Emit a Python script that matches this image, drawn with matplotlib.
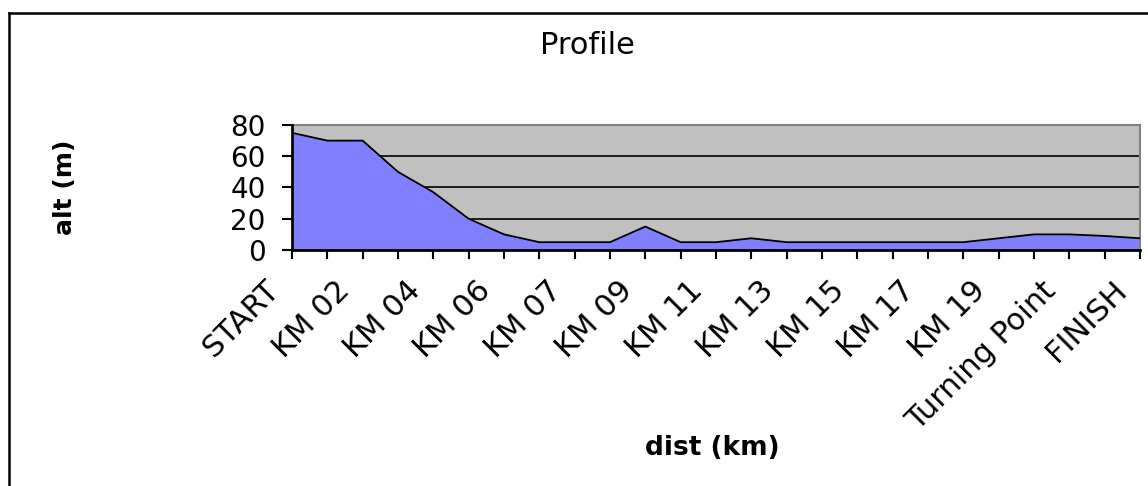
import matplotlib
matplotlib.use("Agg")
import matplotlib.pyplot as plt
from matplotlib.lines import Line2D
import matplotlib.transforms as mtransforms

plt.rcParams['font.family'] = ['DejaVu Sans']

categories = ["START", "KM 01", "KM 02", "KM 03", "KM 04", "KM 05", "KM 06",
              "KM 06.5", "KM 07", "KM 08", "KM 09", "KM 10", "KM 11", "KM 12",
              "KM 13", "KM 14", "KM 15", "KM 16", "KM 17", "KM 18", "KM 19",
              "KM 20", "Turning Point", "KM 21", "FINISH"]
altitude = [75, 70, 70, 50, 37, 20, 10, 5, 5, 5, 15, 5, 5, 7.5, 5, 5, 5, 5,
            5, 5, 7.5, 10, 10, 9, 7.5]
y_ticks = [0, 20, 40, 60, 80]

W, H = 1148, 486
fig = plt.figure(figsize=(W / 100, H / 100), dpi=100)
fig.patch.set_facecolor('white')

ax = fig.add_axes([292 / W, 1 - 250 / H, (1140 - 292) / W, (250 - 125) / H])
ax.set_facecolor('#C0C0C0')

x = list(range(len(categories)))
ax.fill_between(x, altitude, 0, facecolor='#8080FF', edgecolor='none', zorder=2)
ax.plot(x, altitude, color='black', lw=1.3, zorder=3)

ax.set_xlim(0, len(categories) - 1)
ax.set_ylim(0, 80)
ax.set_yticks(y_ticks)
ax.set_yticklabels([str(v) for v in y_ticks])
ax.yaxis.grid(True, color='black', lw=1.2)
ax.set_axisbelow(True)

ax.set_xticks(x)
ax.tick_params(axis='x', direction='out', length=6.5, width=1.5, pad=12)
ax.tick_params(axis='y', direction='out', length=7, width=1.5, pad=12, labelsize=20)
ax.set_xticklabels([c if i % 2 == 0 else '' for i, c in enumerate(categories)],
                   rotation=45, ha='right', va='top', rotation_mode='anchor',
                   fontsize=22)
offset = mtransforms.ScaledTranslation(-28 / 100, 0, fig.dpi_scale_trans)
for lab in ax.get_xticklabels():
    lab.set_transform(lab.get_transform() + offset)

for s in ['left', 'bottom']:
    ax.spines[s].set_color('black')
    ax.spines[s].set_linewidth(2)
    ax.spines[s].set_zorder(4)
for s in ['top', 'right']:
    ax.spines[s].set_color('#808080')
    ax.spines[s].set_linewidth(1.5)

fig.text(587 / W, 1 - 46 / H, "Profile", ha='center', va='center', fontsize=22)
fig.text(712 / W, 1 - 448 / H, "dist (km)", ha='center', va='center',
         fontsize=19, fontweight='bold')
fig.text(65 / W, 1 - 187 / H, "alt (m)", ha='center', va='center',
         fontsize=18, fontweight='bold', rotation=90)

fig.add_artist(Line2D([9 / W, 9 / W], [-0.1, 1 - 13 / H], transform=fig.transFigure,
                      color='black', lw=1.8))
fig.add_artist(Line2D([9 / W, 1.1], [1 - 13 / H, 1 - 13 / H], transform=fig.transFigure,
                      color='black', lw=1.8))

fig.savefig("out.png", dpi=100)
